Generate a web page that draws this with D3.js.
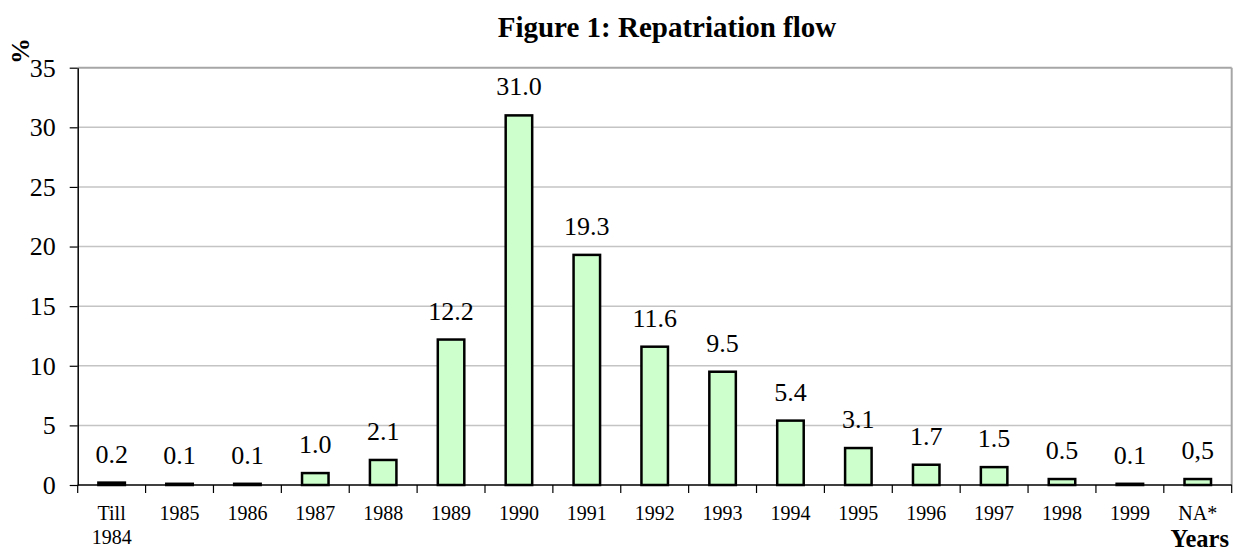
<!DOCTYPE html>
<html>
<head>
<meta charset="utf-8">
<script src="https://cdn.jsdelivr.net/npm/d3@7"></script>
<style>
  html, body { margin: 0; padding: 0; background: #fff; }
  svg { display: block; font-family: "Liberation Serif", "Times New Roman", serif; }
</style>
</head>
<body>
<div id="chart"></div>
<script>
// chart data
const categories = ["Till\n1984", "1985", "1986", "1987", "1988", "1989", "1990", "1991", "1992",
  "1993", "1994", "1995", "1996", "1997", "1998", "1999", "NA*"];
const values = [0.2, 0.1, 0.1, 1.0, 2.1, 12.2, 31.0, 19.3, 11.6, 9.5, 5.4, 3.1, 1.7, 1.5, 0.5, 0.1, 0.5];
const valueLabels = ["0.2", "0.1", "0.1", "1.0", "2.1", "12.2", "31.0", "19.3", "11.6", "9.5", "5.4",
  "3.1", "1.7", "1.5", "0.5", "0.1", "0,5"];
const yTicks = [0, 5, 10, 15, 20, 25, 30, 35];

const width = 1240, height = 552;
const plot = { left: 77.7, right: 1231.7, top: 67.7, bottom: 485 };

const svg = d3.select("#chart").append("svg")
  .attr("width", width)
  .attr("height", height);

let x = d3.scaleBand()
  .domain(categories)
  .range([plot.left, plot.right])
  .padding(0);

let y = d3.scaleLinear()
  .domain([0, 35])
  .range([plot.bottom, plot.top]);

// title
svg.append("text")
  .attr("x", 667)
  .attr("y", 37)
  .attr("text-anchor", "middle")
  .style("font-size", "29px")
  .style("font-weight", "bold")
  .text("Figure 1: Repatriation flow");

// gridlines (the top one is the plot area border)
svg.append("g")
  .selectAll("line")
  .data(yTicks.filter(d => d > 0))
  .enter()
  .append("line")
    .attr("x1", plot.left)
    .attr("x2", plot.right)
    .attr("y1", d => y(d))
    .attr("y2", d => y(d))
    .attr("stroke", d => d === 35 ? "#a6a6a6" : "#c4c4c4")
    .attr("stroke-width", d => d === 35 ? 2 : 1.5);

// right border of the plot area
svg.append("line")
  .attr("x1", plot.right)
  .attr("x2", plot.right)
  .attr("y1", plot.top)
  .attr("y2", plot.bottom)
  .attr("stroke", "#a6a6a6")
  .attr("stroke-width", 2);

// bars
const barW = 26.5;
svg.append("g")
  .selectAll("rect")
  .data(values)
  .enter()
  .append("rect")
    .attr("x", (d, i) => x(categories[i]) + (x.bandwidth() - barW) / 2)
    .attr("y", d => y(d))
    .attr("width", barW)
    .attr("height", d => y(0) - y(d))
    .attr("fill", "#ccffcc")
    .attr("stroke", "#000")
    .attr("stroke-width", 2.5);

// value labels above bars
svg.append("g")
  .selectAll("text")
  .data(values)
  .enter()
  .append("text")
    .attr("x", (d, i) => x(categories[i]) + x.bandwidth() / 2)
    .attr("y", d => y(d) - 20)
    .attr("text-anchor", "middle")
    .style("font-size", "26px")
    .text((d, i) => valueLabels[i]);

// y axis
let yAxis = svg.append("g")
  .attr("transform", "translate(" + plot.left + ",0)")
  .call(d3.axisLeft(y).tickValues(yTicks).tickSize(8).tickSizeOuter(0).tickPadding(14));
yAxis.select(".domain").attr("stroke", "#000").attr("stroke-width", 1.5);
yAxis.selectAll(".tick line").attr("stroke", "#000").attr("stroke-width", 1.2);
yAxis.selectAll(".tick text")
  .attr("fill", "#000")
  .style("font-size", "26px")
  .style("font-family", "Liberation Serif");

// x axis: baseline, ticks on category boundaries, labels in the middle
svg.append("line")
  .attr("x1", plot.left)
  .attr("x2", plot.right)
  .attr("y1", y(0))
  .attr("y2", y(0))
  .attr("stroke", "#000")
  .attr("stroke-width", 1.5);

let bounds = categories.map(c => x(c)).concat([plot.right]);
svg.append("g")
  .selectAll("line")
  .data(bounds)
  .enter()
  .append("line")
    .attr("x1", d => d)
    .attr("x2", d => d)
    .attr("y1", y(0))
    .attr("y2", y(0) + 8)
    .attr("stroke", "#000")
    .attr("stroke-width", 1.2);

let xAxis = svg.append("g")
  .attr("transform", "translate(0," + y(0) + ")")
  .call(d3.axisBottom(x).tickSize(0).tickPadding(0));
xAxis.select(".domain").remove();
xAxis.selectAll(".tick text")
  .attr("fill", "#000")
  .attr("y", 0)
  .attr("dy", null)
  .style("font-size", "20px")
  .style("font-family", "Liberation Serif")
  .each(function(d) {
    let t = d3.select(this);
    let lines = d.split("\n");
    t.text(null);
    lines.forEach((ln, k) => {
      t.append("tspan")
        .attr("x", 0)
        .attr("y", 35 + k * 24)
        .text(ln);
    });
  });

// axis titles
svg.append("text")
  .attr("x", 1229)
  .attr("y", 546.5)
  .attr("text-anchor", "end")
  .style("font-size", "24.5px")
  .style("font-weight", "bold")
  .text("Years");

svg.append("text")
  .attr("transform", "translate(29,51) rotate(-90)")
  .attr("text-anchor", "middle")
  .style("font-size", "26px")
  .style("font-weight", "bold")
  .text("%");
</script>
</body>
</html>
